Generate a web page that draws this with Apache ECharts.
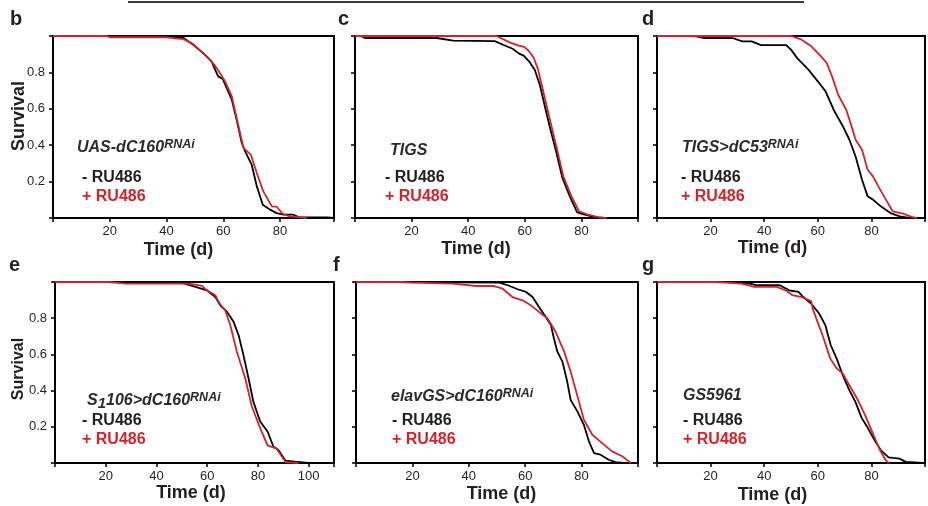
<!DOCTYPE html>
<html>
<head>
<meta charset="utf-8">
<script src="https://cdn.jsdelivr.net/npm/echarts@6/dist/echarts.min.js"></script>
<style>html,body{margin:0;padding:0;background:#fff}#c{width:928px;height:506px}</style>
</head>
<body>
<div id="c"></div>
<script>
// ---- data: [day, survival] ----
const bMinus = [[0,1],[20,1],[40,0.998],[45.9,0.99],[49.4,0.952],[52.9,0.906],[55.9,0.86],[57.1,0.815],[58.2,0.778],[59.8,0.764],[61.2,0.714],[63,0.65],[64.7,0.54],[66.5,0.412],[67.7,0.366],[70,0.293],[71.8,0.174],[73.9,0.073],[76.5,0.046],[78.8,0.027],[81.2,0.018],[84.7,0.018],[86.5,0.005],[96.5,0.003],[99,0]];
const bPlus  = [[0,1],[19,1],[20,0.993],[40,0.993],[45.9,0.983],[48.8,0.962],[51.8,0.921],[54.7,0.879],[57.1,0.837],[58.8,0.797],[60.6,0.751],[63,0.668],[64.7,0.549],[67.1,0.385],[69.7,0.348],[71.8,0.247],[74.1,0.146],[77.1,0.064],[78.8,0.062],[81,0.022],[83.5,0.009],[89.4,0]];
const cMinus = [[0,1],[2,1],[3.5,0.989],[28.8,0.989],[34.7,0.975],[49.4,0.972],[52.3,0.952],[55.7,0.93],[58,0.903],[59.6,0.892],[61.5,0.861],[63.5,0.815],[65.3,0.732],[67.1,0.613],[68.8,0.503],[71.2,0.357],[73.3,0.22],[75.9,0.119],[78.5,0.031],[81.2,0.018],[84.7,0.005],[87.6,0]];
const cPlus  = [[0,1],[50,1],[54.7,0.965],[57.6,0.948],[59.8,0.94],[61.5,0.916],[63.2,0.879],[64.7,0.815],[66.5,0.696],[68.6,0.558],[71,0.403],[73.6,0.229],[76.5,0.119],[79.2,0.036],[82.4,0.018],[85.9,0.005],[88.8,0]];
const dMinus = [[0,1],[14.1,1],[17.6,0.989],[28.2,0.989],[31.8,0.97],[35.3,0.97],[38.8,0.95],[48.2,0.95],[50,0.925],[52.4,0.877],[56.5,0.815],[60,0.751],[62.9,0.696],[65.9,0.595],[69.4,0.503],[71.8,0.43],[74.1,0.338],[76.5,0.21],[78.6,0.119],[80.6,0.101],[83.5,0.064],[87.1,0.027],[90.6,0.009],[94.1,0]];
const dPlus  = [[0,1],[50,1],[53.5,0.983],[57.6,0.943],[61.2,0.888],[63.3,0.852],[65.3,0.778],[67.6,0.677],[70.6,0.595],[72.4,0.513],[74.1,0.43],[76.5,0.375],[78.6,0.265],[80.6,0.229],[82.6,0.174],[84.7,0.119],[88,0.036],[91.8,0.024],[95.3,0.005],[97,0]];
const eMinus = [[0,1],[48.8,1],[56.7,0.967],[59.9,0.954],[63.2,0.917],[65.2,0.871],[67.8,0.835],[70.4,0.78],[72.4,0.706],[74.3,0.596],[76.3,0.468],[78.2,0.339],[80.9,0.229],[83.8,0.174],[86.1,0.091],[88,0.073],[90.9,0.013],[94.6,0.007],[99.8,0]];
const ePlus  = [[0,1],[21.4,1],[27.9,0.991],[52.8,0.991],[58,0.978],[59.9,0.954],[63.2,0.927],[64.9,0.881],[67.1,0.844],[69.1,0.762],[71.7,0.615],[75,0.468],[77.6,0.312],[80.9,0.193],[83.8,0.097],[87.4,0.079],[90.9,0.005],[96,0]];
const fMinus = [[0,1],[17.3,1],[50.8,0.997],[53.8,0.982],[57.3,0.96],[60.3,0.945],[62.6,0.917],[64.9,0.862],[67.3,0.807],[69.1,0.762],[70.2,0.688],[71.4,0.615],[73.2,0.56],[74.9,0.45],[76.1,0.349],[78.5,0.285],[80.8,0.211],[82.6,0.119],[84.4,0.055],[86.7,0.046],[89.6,0.018],[92,0.005],[95,0]];
const fPlus  = [[0,1],[16,1],[20,0.996],[34.3,0.991],[42.6,0.978],[48.7,0.978],[52,0.963],[55.5,0.917],[59.1,0.899],[62,0.871],[64.9,0.835],[67.9,0.798],[70.8,0.725],[73.8,0.615],[76.1,0.505],[78.5,0.37],[80.8,0.239],[83.8,0.156],[87.3,0.11],[90.8,0.064],[94.4,0.037],[96.7,0.009],[97.5,0]];
const gMinus = [[0,1],[25.8,1],[34.6,0.991],[37.5,0.982],[45.8,0.982],[49.3,0.954],[52.8,0.945],[54.6,0.917],[57.5,0.881],[60.5,0.826],[62.8,0.762],[64.8,0.652],[67,0.578],[69.3,0.486],[71.7,0.404],[74,0.339],[76.4,0.248],[78.7,0.193],[81.1,0.128],[83.4,0.073],[86.4,0.031],[88.1,0.028],[90.5,0.024],[92.8,0.006],[96,0.004],[99,0]];
const gPlus  = [[0,1],[22.2,1],[31.6,0.991],[36.3,0.973],[44.6,0.973],[48.1,0.954],[50.5,0.927],[54,0.917],[57.5,0.894],[58.1,0.853],[59.9,0.78],[62.2,0.688],[64.6,0.578],[67,0.523],[69.3,0.495],[71.7,0.431],[74.6,0.358],[77.6,0.266],[80.5,0.165],[82.8,0.083],[85.2,0.018],[86.4,0]];

const panelLetters = ['b','c','d','e','f','g'];
const genotypes = ['UAS-dC160|RNAi','TIGS|','TIGS>dC53|RNAi','S1106>dC160|RNAi','elavGS>dC160|RNAi','GS5961|'];
const seriesNames = ['- RU486','+ RU486'];
const xTickLabels = [20,40,60,80];
const xTickLabelsE = [20,40,60,80,100];
const yTickLabels = [0.2,0.4,0.6,0.8];
const xAxisTitle = 'Time (d)';
const yAxisTitle = 'Survival';

// ---- layout ----
const F = "'Liberation Sans', Arial, Helvetica, sans-serif";
const BLACK = '#000000', RED = '#d2232a', TXT = '#231f20';
const minusData = [bMinus,cMinus,dMinus,eMinus,fMinus,gMinus];
const plusData  = [bPlus,cPlus,dPlus,ePlus,fPlus,gPlus];
const layout = [
  {left:53, top:36, w:281, h:182, max:99,  yl:true,  nameGap:23, namePad:30, lx:10,  ly:9,   gx:77,  gy:148, rx:82,  ry:178},
  {left:355,top:36, w:283, h:182, max:100, yl:false, nameGap:22, namePad:41, lx:338, ly:9,   gx:390, gy:151, rx:385, ry:178},
  {left:657,top:36, w:283, h:182, max:100, yl:false, nameGap:12, namePad:37, lx:642, ly:9,   gx:682, gy:148, rx:681, ry:178},
  {left:55, top:282,w:279, h:181, max:110, yl:true,  nameGap:20, namePad:7,  lx:9,   ly:255, gx:87,  gy:401, rx:82,  ry:421},
  {left:356,top:282,w:282, h:181, max:100, yl:false, nameGap:22, namePad:-9, lx:333, ly:255, gx:391, gy:397, rx:392, ry:421},
  {left:657,top:282,w:283, h:181, max:100, yl:false, nameGap:23, namePad:37, lx:642, ly:255, gx:683, gy:396, rx:683, ry:421}
];

const grids=[], xAxes=[], yAxes=[], series=[], titles=[], graphics=[];
layout.forEach((L,i)=>{
  grids.push({left:L.left, top:L.top, width:L.w, height:L.h, show:true, borderColor:'#000', borderWidth:2, backgroundColor:'transparent', containLabel:false});
  const xl = i===3 ? xTickLabelsE : xTickLabels;
  xAxes.push({type:'value', gridIndex:i, min:0, max:L.max, interval:20,
    name:xAxisTitle, nameLocation:'middle', nameGap:L.nameGap,
    nameTextStyle:{fontFamily:F, fontSize:18, fontWeight:'bold', color:TXT,
      padding: L.namePad>=0 ? [0,L.namePad,0,0] : [0,0,0,-L.namePad]},
    splitLine:{show:false},
    axisLine:{show:true, onZero:false, lineStyle:{color:'#000', width:2}},
    axisTick:{show:true, length:4, lineStyle:{color:'#000', width:1.5}},
    axisLabel:{show:true, margin:7, fontFamily:F, fontSize:13, color:TXT,
      showMinLabel:true, showMaxLabel:true,
      formatter:v=> xl.indexOf(Math.round(v))>=0 && Math.abs(v-Math.round(v))<1e-6 ? String(Math.round(v)) : ''}
  });
  yAxes.push({type:'value', gridIndex:i, min:0, max:1, interval:0.2,
    splitLine:{show:false},
    axisLine:{show:true, onZero:false, lineStyle:{color:'#000', width:2}},
    axisTick:{show:true, length:4, lineStyle:{color:'#000', width:1.5}},
    axisLabel:{show:L.yl, margin:8, fontFamily:F, fontSize:13, color:TXT,
      formatter:v=>{const t=yTickLabels.find(q=>Math.abs(q-v)<1e-6); return t!==undefined ? t.toFixed(1) : '';}}
  });
  series.push({type:'line', name:seriesNames[0], xAxisIndex:i, yAxisIndex:i, data:minusData[i], showSymbol:false, symbol:'none',
    lineStyle:{color:BLACK, width:1.8}, itemStyle:{color:BLACK}, animation:false, z:2});
  series.push({type:'line', name:seriesNames[1], xAxisIndex:i, yAxisIndex:i, data:plusData[i], showSymbol:false, symbol:'none',
    lineStyle:{color:RED, width:1.8}, itemStyle:{color:RED}, animation:false, z:3});

  titles.push({text:panelLetters[i], left:L.lx, top:L.ly, padding:0,
    textStyle:{fontFamily:F, fontSize:20, fontWeight:'bold', color:TXT, lineHeight:20}});
  const parts = genotypes[i].split('|');
  let txt;
  if (i===3) {
    txt = '{m|S}{s1|1}{m|106>dC160}{sup|' + parts[1] + '}';
  } else {
    txt = '{m|' + parts[0] + '}' + (parts[1] ? '{sup|' + parts[1] + '}' : '');
  }
  titles.push({text:txt, left:L.gx, top:L.gy-10, padding:0,
    textStyle:{rich:{
      m:{fontFamily:F, fontSize:16, fontWeight:'bold', fontStyle:'italic', color:'#2b2b2b', lineHeight:20, verticalAlign:'middle'},
      s1:{fontFamily:F, fontSize:15, fontWeight:'bold', fontStyle:'italic', color:'#2b2b2b', lineHeight:16, verticalAlign:'bottom'},
      sup:{fontFamily:F, fontSize:12.5, fontWeight:'bold', fontStyle:'italic', color:'#2b2b2b', lineHeight:13, verticalAlign:'top'}
    }}});
  titles.push({text:seriesNames[0], left:L.rx, top:L.ry-9, padding:0,
    textStyle:{fontFamily:F, fontSize:16, fontWeight:'bold', color:TXT, lineHeight:18}});
  titles.push({text:seriesNames[1], left:L.rx, top:L.ry+10, padding:0,
    textStyle:{fontFamily:F, fontSize:16, fontWeight:'bold', color:RED, lineHeight:18}});
});

graphics.push({type:'text', x:19, y:116, rotation:Math.PI/2,
  style:{text:yAxisTitle, fontFamily:F, fontSize:18, fontWeight:'bold', fill:TXT, textAlign:'center', textVerticalAlign:'middle'}});
graphics.push({type:'text', x:19, y:369, rotation:Math.PI/2,
  style:{text:yAxisTitle, fontFamily:F, fontSize:16, fontWeight:'bold', fill:TXT, textAlign:'center', textVerticalAlign:'middle'}});
graphics.push({type:'line', shape:{x1:128, y1:2, x2:804, y2:2}, style:{stroke:'#3a3a3a', lineWidth:2}});

const chart = echarts.init(document.getElementById('c'), null, {renderer:'canvas'});
chart.setOption({
  animation:false,
  backgroundColor:'#fff',
  title:titles,
  grid:grids, xAxis:xAxes, yAxis:yAxes, series:series,
  graphic:graphics
});
</script>
</body>
</html>
